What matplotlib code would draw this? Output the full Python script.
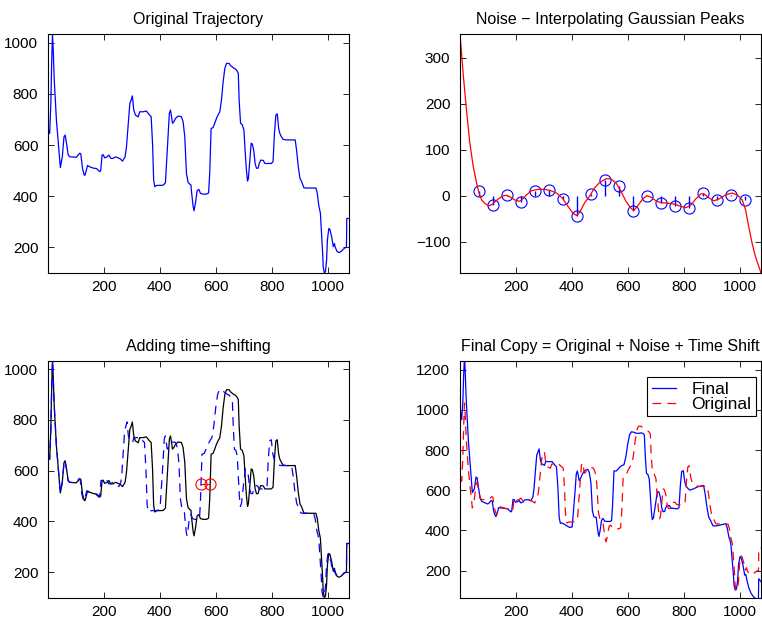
import numpy as np
import matplotlib
matplotlib.use("Agg")
import matplotlib.pyplot as plt

plt.rcParams['font.family'] = ['Liberation Sans', 'DejaVu Sans']
plt.rcParams['font.size'] = 11.5

# original trajectory (breakpoints)
traj_x = [1, 2, 7, 11, 14, 17, 20, 23, 29, 31, 37,
          43, 45, 52, 58, 62, 67, 73, 79, 102, 108,
          114, 118, 124, 130, 133, 138, 142, 150, 162, 174,
          180, 186, 189, 194, 198, 203, 212, 218, 225, 233,
          242, 251, 259, 267, 271, 276, 281, 287, 293, 296,
          302, 307, 313, 323, 328, 340, 352, 361, 369, 374,
          378, 382, 388, 412, 420, 424, 430, 434, 438, 441,
          445, 450, 456, 465, 477, 483, 489, 495, 501, 507,
          511, 513, 519, 522, 527, 533, 539, 545, 555, 566,
          574, 578, 583, 590, 596, 602, 608, 614, 620, 626,
          632, 638, 647, 653, 662, 670, 676, 680, 683, 688,
          694, 700, 705, 709, 713, 716, 721, 726, 730, 735,
          740, 745, 751, 754, 760, 769, 775, 781, 798, 804,
          809, 814, 819, 824, 828, 834, 840, 852, 864, 883,
          888, 894, 900, 906, 914, 923, 947, 957, 962, 967,
          973, 977, 981, 983, 987, 991, 995, 998, 1003, 1007,
          1013, 1019, 1023, 1026, 1033, 1040, 1048, 1054, 1060, 1066,
          1067, 1075]
traj_y = [659, 659, 645, 760, 920, 1034, 960, 860, 737, 698, 620,
          541, 512, 554, 632, 639, 607, 561, 554, 552, 560,
          568, 566, 509, 483, 482, 502, 520, 515, 510, 508,
          502, 496, 500, 561, 562, 550, 554, 561, 548, 548,
          554, 550, 546, 537, 545, 554, 593, 678, 763, 770,
          792, 737, 717, 710, 730, 730, 733, 720, 711, 607,
          463, 437, 442, 443, 453, 528, 646, 724, 737, 717,
          685, 691, 704, 713, 711, 691, 633, 489, 454, 447,
          444, 418, 359, 343, 372, 421, 427, 411, 408, 408,
          413, 489, 665, 668, 685, 704, 718, 730, 776, 848,
          900, 919, 919, 910, 902, 897, 889, 880, 776, 685,
          680, 659, 567, 502, 459, 470, 541, 607, 604, 580,
          528, 509, 510, 526, 541, 540, 528, 528, 528, 535,
          646, 717, 722, 665, 646, 632, 622, 620, 620, 620,
          580, 515, 470, 457, 433, 432, 432, 432, 411, 365,
          333, 255, 176, 124, 100, 105, 150, 229, 274, 270,
          242, 203, 215, 200, 183, 180, 185, 192, 198, 200,
          313, 313]

# gaussian noise peaks and the smooth noise curve through them
peak_x = [67, 117, 167, 217, 267, 317, 367, 417, 467, 517,
          567, 617, 667, 717, 767, 817, 867, 917, 967, 1017]
peak_y = [10, -20, 2, -14, 11, 12, -6, -44, 4, 34,
          22, -34, -1, -15, -22, -27, 6, -9, 1, -9]

noise_x = [1, 13, 25, 36, 48, 60, 67, 78, 90, 105,
           117, 137, 155, 167, 181, 196, 212, 220, 238, 256,
           280, 303, 321, 345, 366, 386, 404, 417, 428, 445,
           463, 481, 499, 522, 538, 558, 576, 593, 611, 621,
           635, 653, 667, 683, 700, 718, 742, 765, 789, 807,
           825, 842, 860, 872, 890, 907, 925, 949, 972, 990,
           1008, 1020, 1031, 1043, 1055, 1075]
noise_y = [352, 260, 180, 115, 64, 28, 10, -9, -17, -22,
           -18, -7, 0, 1, -3, -9, -12, -10, 2, 11,
           14, 14, 12, 6, -5, -23, -38, -43, -36, -16,
           -1, 17, 29, 37, 37, 28, 9, -12, -27, -32,
           -22, -7, 0, -3, -11, -15, -16, -18, -23, -26,
           -20, -7, 4, 4, -5, -11, -7, 2, 6, 2,
           -9, -31, -67, -103, -132, -168]

# time shift (samples) applied along the trajectory
shift_at = [1, 60, 100, 200, 260, 290, 370, 430, 490, 520, 580,
            630, 683, 713, 730, 814, 890, 960, 985, 1040, 1075]
shift_by = [0, 0, -2, -4, -12, -18, -24, -18, -21, -25, -33,
            -26, -21, -26, -19, -22, -12, -8, -4, -1, 0]

# one point and where it moves to
mark_x = [546, 579]
mark_y = [549, 549]

traj_x = np.array(traj_x, dtype=float)
traj_y = np.array(traj_y, dtype=float)
shifted_x = traj_x + np.interp(traj_x, shift_at, shift_by)
final_y = traj_y + np.interp(shifted_x, noise_x, noise_y)


def style(ax, ylim, yticks):
    ax.set_xlim(1, 1075)
    ax.set_ylim(*ylim)
    ax.set_xticks([200, 400, 600, 800, 1000])
    ax.set_yticks(yticks)
    ax.tick_params(direction='in', top=True, right=True, length=4, width=0.6, labelsize=11)
    ax.tick_params(axis='y', pad=7)
    ax.tick_params(axis='x', pad=5)
    for s in ax.spines.values():
        s.set_linewidth(0.8)


fig = plt.figure(figsize=(7.62, 6.21), dpi=100)
ax1 = fig.add_axes([0.063, 0.5604, 0.395, 0.3849])
ax2 = fig.add_axes([0.6037, 0.5604, 0.395, 0.3849])
ax3 = fig.add_axes([0.063, 0.037, 0.395, 0.3816])
ax4 = fig.add_axes([0.6037, 0.037, 0.395, 0.3816])

# Original trajectory
ax1.plot(traj_x, traj_y, color='blue', lw=0.9)
ax1.set_title("Original Trajectory", fontsize=11.5, pad=7)
style(ax1, (100, 1034), [200, 400, 600, 800, 1000])

# Noise
ax2.vlines(peak_x, 0, peak_y, color='blue', lw=1)
ax2.plot(peak_x, peak_y, 'o', color='blue', mfc='none', ms=8, mew=0.8)
ax2.plot(noise_x, noise_y, color='red', lw=0.9)
ax2.set_title("Noise \u2212 Interpolating Gaussian Peaks", fontsize=11.5, pad=7)
style(ax2, (-168, 352), [-100, 0, 100, 200, 300])

# Time shifting
ax3.plot(traj_x, traj_y, color='black', lw=0.9)
ax3.plot(shifted_x, traj_y, color='blue', lw=0.9, dashes=(7, 5))
ax3.plot(mark_x, mark_y, '-o', color='red', mfc='none', ms=8, mew=0.8, lw=0.8)
ax3.set_title("Adding time\u2212shifting", fontsize=11.5, pad=7)
style(ax3, (98, 1032), [200, 400, 600, 800, 1000])

# Final copy
ax4.plot(shifted_x, final_y, color='blue', lw=0.9, label="Final")
ax4.plot(traj_x, traj_y, color='red', lw=0.9, dashes=(7, 5), label="Original")
ax4.set_title("Final Copy = Original + Noise + Time Shift", fontsize=11.5, pad=7)
style(ax4, (64, 1243), [200, 400, 600, 800, 1000, 1200])
leg = ax4.legend(loc='upper right', bbox_to_anchor=(0.983, 0.932), borderaxespad=0,
                 fancybox=False, framealpha=1, edgecolor='black', fontsize=12.5,
                 handlelength=1.4, handletextpad=0.9, labelspacing=0.0, borderpad=0.25)
leg.get_frame().set_linewidth(0.8)

fig.savefig("out.png", dpi=100)
